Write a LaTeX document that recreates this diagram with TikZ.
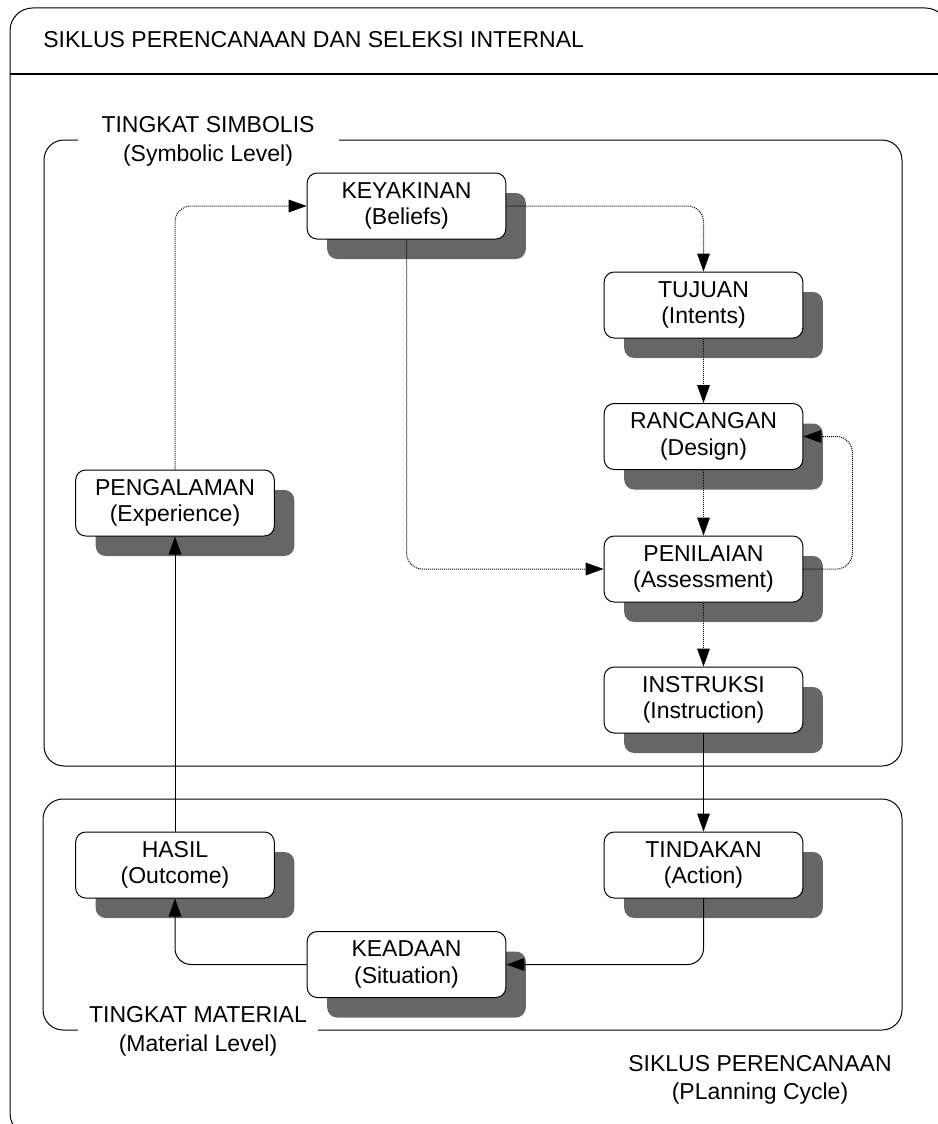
\documentclass[tikz,border=0pt]{standalone}
\usepackage{fontspec}
\setmainfont{Liberation Sans}
\usetikzlibrary{arrows.meta,shadows}
\definecolor{shadowgray}{RGB}{102,102,102}
\begin{document}
\begin{tikzpicture}[x=0.75pt,y=-0.75pt,
  stage/.style={draw=black, line width=0.75pt, fill=white, rounded corners=7.5pt,
    minimum width=149pt, minimum height=49.5pt, inner sep=0pt, align=center,
    font=\fontsize{17.25}{19.9}\selectfont,
    drop shadow={shadow xshift=15pt, shadow yshift=-15pt, fill=shadowgray, opacity=1}},
  level/.style={draw=black, line width=0.75pt, rounded corners=15pt},
  levellabel/.style={fill=white, inner ysep=0pt, align=center,
    font=\fontsize{17.25}{21.75}\selectfont},
  flow/.style={line width=0.75pt, -{Triangle[length=13.5pt,width=9.5pt]}, rounded corners=12pt},
  plan/.style={flow, dash pattern=on 0.75pt off 0.75pt},
]
% page and outer frame
\useasboundingbox (0,0) rectangle (938,1124);
\clip (0,0) rectangle (938,1124);
\draw[line width=0.75pt, rounded corners=17pt] (10,8) rectangle (948,1136);
\draw[line width=2.2pt] (10,74) -- (940,74);
\node[anchor=base west, inner sep=0pt, font=\fontsize{17.25}{19.9}\selectfont] (title) at (43,48)
  {SIKLUS PERENCANAAN DAN SELEKSI INTERNAL};

% the two levels
\draw[level] (44,140) rectangle (902,766);
\draw[level] (43,799) rectangle (902,1030);
\node[levellabel, inner xsep=18pt] (symlabel) at (208,141.5) {TINGKAT SIMBOLIS\\(Symbolic Level)};
\node[levellabel, inner xsep=8pt] (matlabel) at (198,1031.5) {TINGKAT MATERIAL\\(Material Level)};
\node[align=center, font=\fontsize{17.25}{21}\selectfont] (cycle) at (760,1080)
  {SIKLUS PERENCANAAN\\(PLanning Cycle)};

% stages of the cycle
\node[stage] (beliefs)   at (406.5,206)   {KEYAKINAN\\(Beliefs)};
\node[stage] (intents)   at (703.5,305)   {TUJUAN\\(Intents)};
\node[stage] (design)    at (703.5,436.5) {RANCANGAN\\(Design)};
\node[stage] (assess)    at (703.5,569)   {PENILAIAN\\(Assessment)};
\node[stage] (instr)     at (703.5,700)   {INSTRUKSI\\(Instruction)};
\node[stage] (exper)     at (175,503)     {PENGALAMAN\\(Experience)};
\node[stage] (outcome)   at (175,865)     {HASIL\\(Outcome)};
\node[stage] (action)    at (703.5,865)   {TINDAKAN\\(Action)};
\node[stage] (situation) at (406.5,964.5) {KEADAAN\\(Situation)};

% symbolic flows (dotted)
\draw[plan] (exper.north) |- (beliefs.west);
\draw[plan] (beliefs.east) -| (intents.north);
\draw[plan] (beliefs.south) |- (assess.west);
\draw[plan] (intents.south) -- (design.north);
\draw[plan] (design.south) -- (assess.north);
\draw[plan] (assess.east) -- ++(49,0) |- (design.east);
\draw[plan] (assess.south) -- (instr.north);

% material flows (solid)
\draw[flow] (instr.south) -- (action.north);
\draw[flow] (action.south) |- (situation.east);
\draw[flow] (situation.west) -| (outcome.south);
\draw[flow] (outcome.north) -- (exper.south);
\end{tikzpicture}
\end{document}
